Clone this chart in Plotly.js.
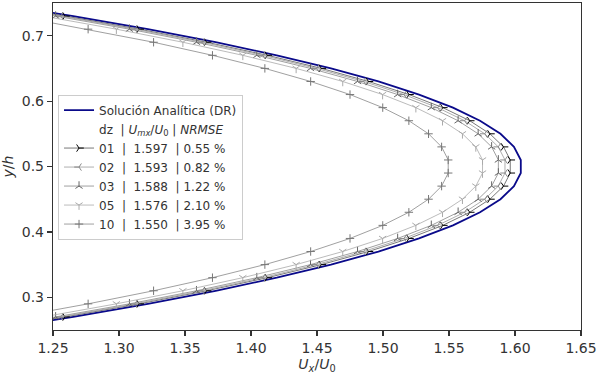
<!DOCTYPE html>
<html>
<head>
<meta charset="utf-8">
<script src="https://cdn.plot.ly/plotly-3.0.1.min.js"></script>
<style>html,body{margin:0;padding:0;background:#fff;}#chart{width:598px;height:374px;}</style>
</head>
<body>
<div id="chart"></div>
<script>
// y/h sample positions
const yPos = [0.25,0.27,0.29,0.31,0.33,0.35,0.37,0.39,0.41,0.43,0.45,0.47,0.49,
              0.51,0.53,0.55,0.57,0.59,0.61,0.63,0.65,0.67,0.69,0.71,0.73,0.75];
// Analytic solution (DR)
const uAnalytic = [1.2038,1.2654,1.3219,1.3732,1.4195,1.4606,1.4965,1.5273,1.5530,1.5735,1.5890,1.5992,1.6044,
                   1.6044,1.5992,1.5890,1.5735,1.5530,1.5273,1.4965,1.4606,1.4195,1.3732,1.3219,1.2654,1.2038];
// dz = 01
const u01 = [1.1978,1.2591,1.3153,1.3664,1.4124,1.4533,1.4890,1.5197,1.5453,1.5657,1.5810,1.5913,1.5964,
             1.5964,1.5913,1.5810,1.5657,1.5453,1.5197,1.4890,1.4533,1.4124,1.3664,1.3153,1.2591,1.1978];
// dz = 02
const u02 = [1.1948,1.2559,1.3120,1.3630,1.4089,1.4496,1.4853,1.5159,1.5414,1.5618,1.5771,1.5873,1.5924,
             1.5924,1.5873,1.5771,1.5618,1.5414,1.5159,1.4853,1.4496,1.4089,1.3630,1.3120,1.2559,1.1948];
// dz = 03
const u03 = [1.1910,1.2520,1.3079,1.3587,1.4044,1.4451,1.4807,1.5111,1.5366,1.5569,1.5721,1.5823,1.5874,
             1.5874,1.5823,1.5721,1.5569,1.5366,1.5111,1.4807,1.4451,1.4044,1.3587,1.3079,1.2520,1.1910];
// dz = 05
const u05 = [1.1820,1.2425,1.2980,1.3484,1.3938,1.4342,1.4695,1.4997,1.5249,1.5451,1.5602,1.5703,1.5754,
             1.5754,1.5703,1.5602,1.5451,1.5249,1.4997,1.4695,1.4342,1.3938,1.3484,1.2980,1.2425,1.1820];
// dz = 10
const u10 = [1.1625,1.2222,1.2766,1.3262,1.3708,1.4105,1.4452,1.4750,1.4998,1.5196,1.5345,1.5444,1.5494,
             1.5494,1.5444,1.5345,1.5196,1.4998,1.4750,1.4452,1.4105,1.3708,1.3262,1.2766,1.2222,1.1625];

const legendNames = [
  'Solución Analítica (DR)',
  'dz\u00a0\u00a0| <i>U</i><sub><i>mx</i></sub>/<i>U</i><sub>0</sub> | <i>NRMSE</i>',
  '01\u00a0\u00a0|\u00a0\u00a01.597\u00a0\u00a0| 0.55 %',
  '02\u00a0\u00a0|\u00a0\u00a01.593\u00a0\u00a0| 0.82 %',
  '03\u00a0\u00a0|\u00a0\u00a01.588\u00a0\u00a0| 1.22 %',
  '05\u00a0\u00a0|\u00a0\u00a01.576\u00a0\u00a0| 2.10 %',
  '10\u00a0\u00a0|\u00a0\u00a01.550\u00a0\u00a0| 3.95 %'
];
const xTicks = [1.25,1.30,1.35,1.40,1.45,1.50,1.55,1.60,1.65];
const yTicks = [0.3,0.4,0.5,0.6,0.7];

function series(x, name, symbol, mcol, lcol) {
  return {x: x, y: yPos, name: name, type: 'scatter', mode: 'lines+markers',
    line: {color: lcol, width: 0.8},
    marker: {symbol: symbol, size: 6, color: mcol, line: {color: mcol, width: 1}}};
}

const traces = [
  {x: uAnalytic, y: yPos, name: legendNames[0], type: 'scatter', mode: 'lines',
   line: {color: '#0a0a8a', width: 1.8}},
  {x: [1.0], y: [0.5], name: legendNames[1], type: 'scatter', mode: 'lines',
   line: {color: 'rgba(0,0,0,0)', width: 1}},
  series(u01, legendNames[2], 'y-right', '#000000', '#555555'),
  series(u02, legendNames[3], 'y-left', '#888888', '#999999'),
  series(u03, legendNames[4], 'y-up', '#666666', '#888888'),
  series(u05, legendNames[5], 'y-down', '#aaaaaa', '#aaaaaa'),
  series(u10, legendNames[6], 'cross-thin', '#777777', '#888888')
];

const axisCommon = {
  showline: true, mirror: true, linecolor: '#333', linewidth: 1.2,
  ticks: 'outside', ticklen: 5, tickwidth: 1.2, tickcolor: '#333',
  showgrid: false, zeroline: false,
  tickfont: {family: 'DejaVu Sans', size: 14, color: '#333'}
};

const layout = {
  width: 598, height: 374,
  margin: {l: 53, r: 17, t: 3, b: 44},
  paper_bgcolor: '#fff', plot_bgcolor: '#fff',
  font: {family: 'DejaVu Sans', color: '#333'},
  showlegend: true,
  legend: {x: 0.0095, y: 0.72, xanchor: 'left', yanchor: 'top',
    bgcolor: 'rgba(255,255,255,0.85)', bordercolor: '#cccccc', borderwidth: 1,
    font: {family: 'DejaVu Sans', size: 12, color: '#333'}},
  xaxis: Object.assign({}, axisCommon, {
    range: [1.25, 1.65], tickvals: xTicks, tickformat: '.2f',
    title: {text: '<i>U</i><sub><i>x</i></sub>/<i>U</i><sub>0</sub>', font: {family: 'DejaVu Sans', size: 14, color: '#333'}, standoff: 4}
  }),
  yaxis: Object.assign({}, axisCommon, {
    range: [0.25, 0.75], tickvals: yTicks, tickformat: '.1f',
    title: {text: '<i>y</i>/<i>h</i>', font: {family: 'DejaVu Sans', size: 14, color: '#333'}, standoff: 4}
  })
};

Plotly.newPlot('chart', traces, layout, {staticPlot: true, displayModeBar: false});
</script>
</body>
</html>
